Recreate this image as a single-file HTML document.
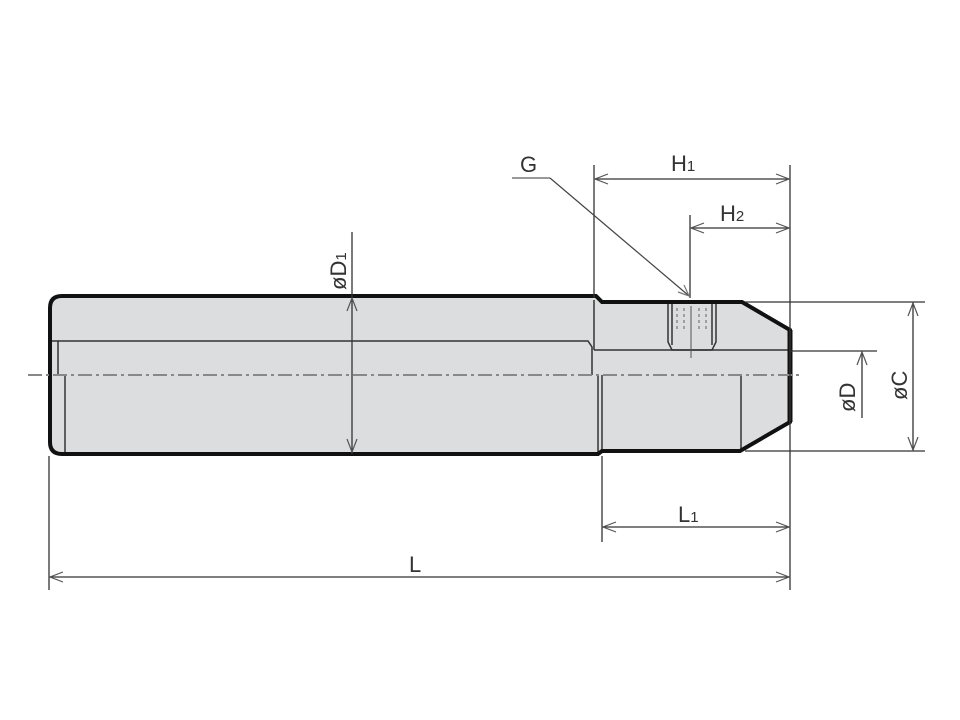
<!DOCTYPE html>
<html><head><meta charset="utf-8"><style>html,body{margin:0;padding:0;background:#fff}svg{display:block}</style></head>
<body>
<svg width="960" height="720" viewBox="0 0 960 720" xmlns="http://www.w3.org/2000/svg" font-family="Liberation Sans, sans-serif">
<!-- body fill -->
<path d="M62,296 L596,296 L602,302 L742,302 L790,330 L790,422 L740,451 L602,451 L598,454 L62,454 Q50,454 50,442 L50,308 Q50,296 62,296 Z" fill="#dcdddf"/>
<!-- inner thin lines -->
<g stroke="#333" stroke-width="1.5" fill="none">
<path d="M50,341 L58,341 L58,375"/>
<path d="M58,341 L588,341 L592,347 L592,375"/>
<path d="M65,375 L65,454"/>
<path d="M594,350 L790,350"/>
<path d="M598,375 L598,454"/>
<path d="M602,375 L602,451"/>
<path d="M741,375 L741,451"/>
<path d="M594,300 L594,350"/>
</g>
<!-- outline -->
<path d="M62,296 L596,296 L602,302 L742,302 L790,330 L790,422 L740,451 L602,451 L598,454 L62,454 Q50,454 50,442 L50,308 Q50,296 62,296 Z" fill="none" stroke="#111" stroke-width="4"/>
<path d="M790,330 L790,422" stroke="#111" stroke-width="5"/>
<!-- threaded hole -->
<g stroke="#333" stroke-width="1.5" fill="none">
<path d="M668,304 L668,342 L672,350 L712,350 L716,342 L716,304"/>
<path d="M672,304 L672,345 M712,304 L712,345"/>
</g>
<g stroke="#777" stroke-width="1.2" stroke-dasharray="3,3" fill="none">
<path d="M677,308 L677,330 M684,308 L684,330 M699,308 L699,330 M706,308 L706,330"/>
</g>
<path d="M691,306 L691,358" stroke="#555" stroke-width="1"/>
<!-- centerline -->
<path d="M28,375 L800,375" stroke="#888" stroke-width="2" stroke-dasharray="14,4,3,4"/>
<!-- dimension lines -->
<g stroke="#333" stroke-width="1.3" fill="none">
<path d="M49,456 L49,590"/>
<path d="M790,165 L790,590"/>
<path d="M602,456 L602,542"/>
<path d="M49,577 L790,577"/>
<path d="M602,527 L790,527"/>
<path d="M594,165 L594,298"/>
<path d="M594,179 L790,179"/>
<path d="M690,215 L690,298"/>
<path d="M690,228 L790,228"/>
<path d="M352,232 L352,454"/>
<path d="M745,302 L925,302"/>
<path d="M745,451 L925,451"/>
<path d="M913,302 L913,451"/>
<path d="M790,351 L877,351"/>
<path d="M862,351 L862,418"/>
</g>
<!-- arrowheads (open) -->
<g stroke="#555" stroke-width="1.2" fill="none">
<path d="M63,572 L50,577 L63,582"/>
<path d="M776,572 L789,577 L776,582"/>
<path d="M616,522 L603,527 L616,532"/>
<path d="M776,522 L789,527 L776,532"/>
<path d="M608,174 L595,179 L608,184"/>
<path d="M776,174 L789,179 L776,184"/>
<path d="M704,223 L691,228 L704,233"/>
<path d="M776,223 L789,228 L776,233"/>
<path d="M347,311 L352,298 L357,311"/>
<path d="M347,439 L352,452 L357,439"/>
<path d="M908,316 L913,303 L918,316"/>
<path d="M908,437 L913,450 L918,437"/>
<path d="M857,365 L862,352 L867,365"/>
</g>
<!-- G leader -->
<path d="M512,178 L550,178" stroke="#999" stroke-width="2"/>
<path d="M550,178 L688,295" stroke="#444" stroke-width="1.2"/>
<path d="M678,292 L689,296 L684,285" stroke="#777" stroke-width="1.2" fill="none"/>
<!-- labels -->
<g fill="#333" font-size="22">
<text x="520" y="172">G</text>
<text x="671" y="171">H<tspan font-size="15">1</tspan></text>
<text x="720" y="221">H<tspan font-size="15">2</tspan></text>
<text x="678" y="522">L<tspan font-size="15">1</tspan></text>
<text x="409" y="572">L</text>
<text transform="translate(346,290) rotate(-90)">øD<tspan font-size="15">1</tspan></text>
<text transform="translate(855,412) rotate(-90)">øD</text>
<text transform="translate(907,400) rotate(-90)">øC</text>
</g>
</svg>
</body></html>
